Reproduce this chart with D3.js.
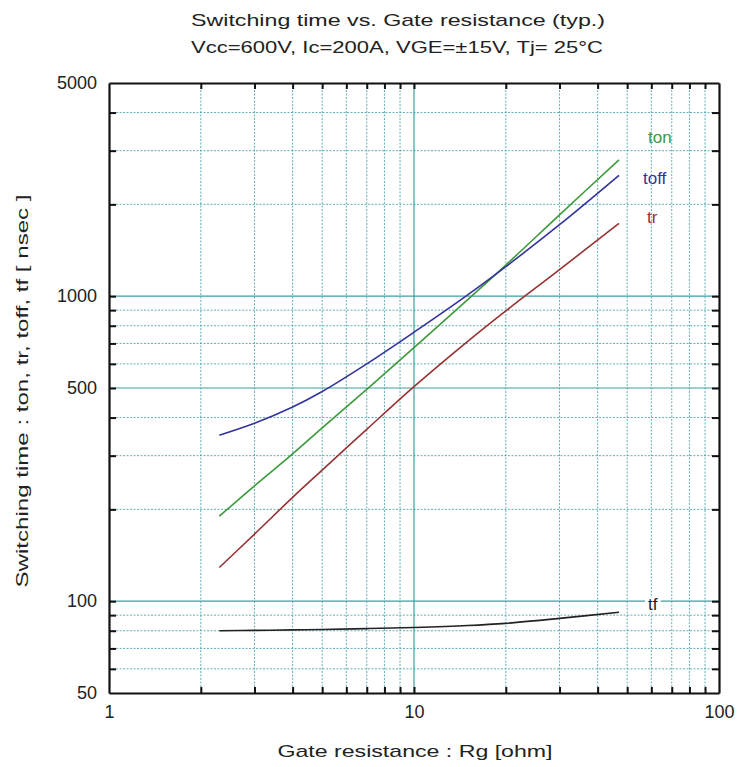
<!DOCTYPE html>
<html>
<head>
<meta charset="utf-8">
<script src="https://cdn.jsdelivr.net/npm/d3@7"></script>
<style>
  body { margin: 0; background: #fff; }
  text { font-family: "Liberation Sans", Arial, sans-serif; fill: #222; }
</style>
</head>
<body>
<svg id="chart" width="738" height="767"></svg>
<script>
// ---- data ----
var rg = [2.3, 3, 4, 5, 7, 10, 15, 20, 30, 47];
var ton  = [190, 239, 304, 370, 495, 678, 975, 1265, 1848, 2800];
var toff = [350, 383, 433, 487, 600, 762, 1010, 1250, 1715, 2490];
var tr   = [129, 166, 219, 269, 366, 505, 711, 895, 1222, 1734];
var tf   = [80, 80.2, 80.5, 80.8, 81.3, 82, 83.2, 84.6, 87.8, 92];

var xLabels = [1, 10, 100];
var yLabels = [50, 100, 500, 1000, 5000];
var xGridDotted = [2, 3, 4, 5, 6, 7, 8, 9, 20, 30, 40, 50, 60, 70, 80, 90];
var xGridSolid = [10];
var yGridDotted = [60, 70, 80, 90, 200, 300, 400, 600, 700, 800, 900, 2000, 3000, 4000];
var yGridSolid = [100, 500, 1000];

var series = [
  {name: "ton",  values: ton,  color: "#3c9a3c", lx: 648, ly: 137},
  {name: "toff", values: toff, color: "#33339e", lx: 643, ly: 178},
  {name: "tr",   values: tr,   color: "#983232", lx: 647, ly: 217},
  {name: "tf",   values: tf,   color: "#222222", lx: 648, ly: 604}
];

var svg = d3.select("#chart"),
    pLeft = 109, pRight = 719, pTop = 83, pBottom = 693;

var x = d3.scaleLog().domain([1, 100]).range([pLeft, pRight]);
var y = d3.scaleLog().domain([50, 5000]).range([pBottom, pTop]);

var grid = "#3d9ea2";

// grid lines
var g = svg.append("g");
g.selectAll(".vd").data(xGridDotted).enter().append("line")
  .attr("x1", d => x(d)).attr("x2", d => x(d)).attr("y1", pTop).attr("y2", pBottom)
  .attr("stroke", grid).attr("stroke-width", 1).attr("stroke-dasharray", "2,1.5").attr("opacity", 0.8);
g.selectAll(".hd").data(yGridDotted).enter().append("line")
  .attr("y1", d => y(d)).attr("y2", d => y(d)).attr("x1", pLeft).attr("x2", pRight)
  .attr("stroke", grid).attr("stroke-width", 1).attr("stroke-dasharray", "2,1.5").attr("opacity", 0.8);
g.selectAll(".vs").data(xGridSolid).enter().append("line")
  .attr("x1", d => x(d)).attr("x2", d => x(d)).attr("y1", pTop).attr("y2", pBottom)
  .attr("stroke", grid).attr("stroke-width", 1.2);
g.selectAll(".hs").data(yGridSolid).enter().append("line")
  .attr("y1", d => y(d)).attr("y2", d => y(d)).attr("x1", pLeft).attr("x2", pRight)
  .attr("stroke", grid).attr("stroke-width", 1.2);

// curves
var line = d3.line()
  .x((d, i) => x(rg[i]))
  .y(d => y(d))
  .curve(d3.curveCatmullRom.alpha(0.5));

svg.selectAll(".curve").data(series).enter().append("path")
  .attr("d", d => line(d.values))
  .attr("fill", "none")
  .attr("stroke", d => d.color)
  .attr("stroke-width", 1.6);

// labels next to curves
series.forEach(function(s) {
  var t = svg.append("text")
    .attr("x", s.lx).attr("y", s.ly + 6)
    .attr("font-size", 17)
    .style("fill", s.color)
    .text(s.name);
  if (s.name === "tf") {
    var bb = t.node().getBBox();
    svg.insert("rect", "text")
      .attr("x", bb.x - 3).attr("y", bb.y + 3).attr("width", bb.width + 6).attr("height", bb.height - 6)
      .attr("fill", "#fff");
  }
});

// frame ticks (inward)
var allX = xGridDotted.concat(xGridSolid), allY = yGridDotted.concat(yGridSolid);
function frameAxis(axis, tr) {
  var a = svg.append("g").attr("transform", tr).call(axis);
  a.selectAll("text").remove();
  a.select(".domain").attr("stroke", "#111").attr("stroke-width", 2.2);
  a.selectAll(".tick line").attr("stroke", "#111").attr("stroke-width", 2);
}
frameAxis(d3.axisBottom(x).tickValues(allX).tickSizeInner(-6).tickSizeOuter(0), "translate(0," + pBottom + ")");
frameAxis(d3.axisTop(x).tickValues(allX).tickSizeInner(-6).tickSizeOuter(0), "translate(0," + pTop + ")");
frameAxis(d3.axisLeft(y).tickValues(allY).tickSizeInner(-7).tickSizeOuter(0), "translate(" + pLeft + ",0)");
frameAxis(d3.axisRight(y).tickValues(allY).tickSizeInner(-7).tickSizeOuter(0), "translate(" + pRight + ",0)");

// tick labels
var xa = svg.append("g").attr("transform", "translate(0," + pBottom + ")")
  .call(d3.axisBottom(x).tickValues(xLabels).tickSize(0).tickPadding(12).tickFormat(d3.format("d")));
xa.select(".domain").remove();
xa.selectAll("text").attr("font-size", 18).attr("font-family", "Liberation Sans, Arial, sans-serif").style("fill", "#222");

var ya = svg.append("g").attr("transform", "translate(" + pLeft + ",0)")
  .call(d3.axisLeft(y).tickValues(yLabels).tickSize(0).tickPadding(12).tickFormat(d3.format("d")));
ya.select(".domain").remove();
ya.selectAll("text").attr("font-size", 18).attr("font-family", "Liberation Sans, Arial, sans-serif").style("fill", "#222");

// titles
svg.append("text").attr("x", 398).attr("y", 26).attr("text-anchor", "middle").attr("font-size", 17)
  .attr("textLength", 414).attr("lengthAdjust", "spacingAndGlyphs")
  .text("Switching time  vs.  Gate resistance  (typ.)");
svg.append("text").attr("x", 397).attr("y", 53).attr("text-anchor", "middle").attr("font-size", 17)
  .attr("textLength", 412).attr("lengthAdjust", "spacingAndGlyphs")
  .text("Vcc=600V, Ic=200A, VGE=\u00b115V, Tj= 25\u00b0C");
svg.append("text").attr("x", 415).attr("y", 757).attr("text-anchor", "middle").attr("font-size", 17)
  .attr("textLength", 275).attr("lengthAdjust", "spacingAndGlyphs")
  .text("Gate resistance  :  Rg  [ohm]");
svg.append("text").attr("transform", "translate(28,391) rotate(-90)").attr("text-anchor", "middle").attr("font-size", 17)
  .attr("textLength", 393).attr("lengthAdjust", "spacingAndGlyphs")
  .text("Switching time  :  ton, tr, toff, tf  [ nsec ]");
</script>
</body>
</html>
